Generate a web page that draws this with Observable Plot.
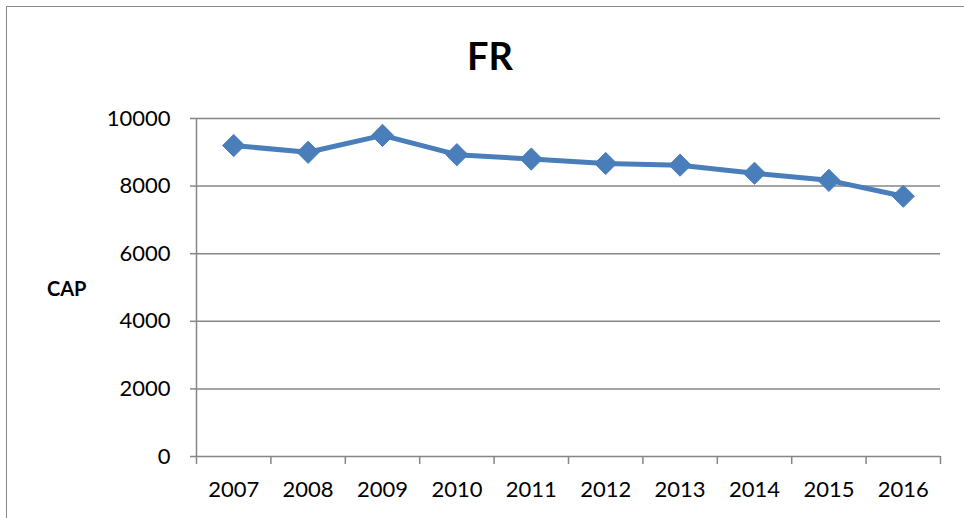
<!DOCTYPE html>
<html>
<head>
<meta charset="utf-8">
<script src="https://cdn.jsdelivr.net/npm/d3@7"></script>
<script src="https://cdn.jsdelivr.net/npm/@observablehq/plot@0.6"></script>
<style>
  html, body { margin: 0; padding: 0; background: #fff; }
  #wrap { position: relative; width: 964px; height: 518px; overflow: hidden; font-family: Lato, "Open Sans", sans-serif; }
  #border { position: absolute; left: 6px; top: 6px; width: 1000px; height: 600px; border: 1.5px solid #888; box-sizing: border-box; }
  #title { position: absolute; left: 0; width: 980px; top: 32px; text-align: center; font-size: 38px; font-weight: bold; color: #000; }
  #ylabel { position: absolute; left: 47px; top: 276px; font-size: 20px; font-weight: bold; color: #000; }
  #chart { position: absolute; left: 0; top: 0; }
</style>
</head>
<body>
<div id="wrap">
  <div id="border"></div>
  <div id="chart"></div>
  <div id="title">FR</div>
  <div id="ylabel">CAP</div>
</div>
<script>
const years = [2007, 2008, 2009, 2010, 2011, 2012, 2013, 2014, 2015, 2016];
const values = [9200, 9000, 9500, 8930, 8800, 8670, 8620, 8380, 8170, 7700];
const yTicks = [0, 2000, 4000, 6000, 8000, 10000];

const data = years.map((y, i) => ({year: y, value: values[i]}));
const boundaries = [...years.map(y => y - 0.5), years[years.length - 1] + 0.5];
const grey = "#868686";
const blue = "#4A7EBB";

const chart = Plot.plot({
  width: 964,
  height: 518,
  marginLeft: 196,
  marginRight: 24,
  marginTop: 118,
  marginBottom: 62,
  style: {fontFamily: "Lato, 'Open Sans', sans-serif", fontSize: "22px", color: "#000", background: "transparent"},
  x: {domain: [boundaries[0], boundaries[boundaries.length - 1]]},
  y: {domain: [0, 10000]},
  marks: [
    Plot.gridY(yTicks, {stroke: grey, strokeOpacity: 1, strokeWidth: 1.5}),
    Plot.ruleX([boundaries[0]], {stroke: grey, strokeWidth: 1.5}),
    Plot.axisY({ticks: yTicks, tickSize: 6, tickPadding: 20, stroke: grey, strokeWidth: 1.5, label: null, tickFormat: d => String(d), fontSize: 22}),
    Plot.axisX({ticks: boundaries, tickSize: 8, tickFormat: () => "", stroke: grey, strokeWidth: 1.5, label: null}),
    Plot.axisX({ticks: years, tickSize: 0, tickPadding: 25, tickFormat: d => String(d), label: null, fontSize: 22}),
    Plot.line(data, {x: "year", y: "value", stroke: blue, strokeWidth: 5}),
    Plot.dot(data, {x: "year", y: "value", symbol: "diamond2", r: 10, fill: blue, stroke: blue, strokeWidth: 1})
  ]
});
document.getElementById("chart").appendChild(chart);
</script>
</body>
</html>
